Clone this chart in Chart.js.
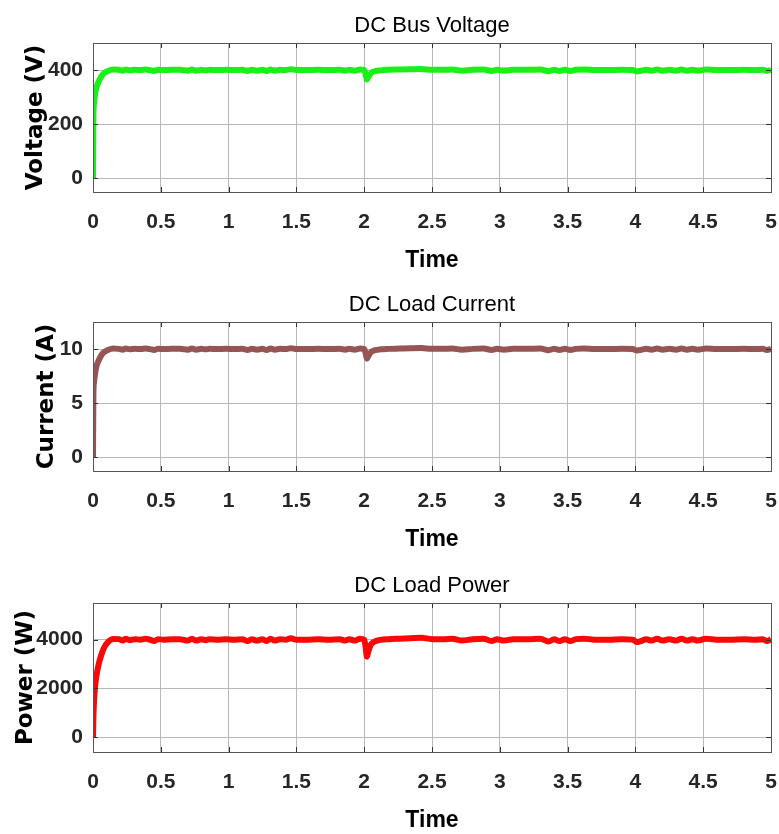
<!DOCTYPE html>
<html>
<head>
<meta charset="utf-8">
<script src="https://cdn.jsdelivr.net/npm/chart.js@4.4.1/dist/chart.umd.min.js"></script>
<style>
  html, body { margin: 0; padding: 0; background: #fff; }
  .box { position: absolute; left: 0; width: 779px; height: 274px; }
</style>
</head>
<body>
<div class="box" style="top:0"><canvas id="c1"></canvas></div>
<div class="box" style="top:279px"><canvas id="c2"></canvas></div>
<div class="box" style="top:560px"><canvas id="c3"></canvas></div>
<script>
// time axis (s)
const time = [
  0, 0.003, 0.008, 0.015, 0.025, 0.04, 0.06, 0.08, 0.11, 0.15,
  0.19, 0.22, 0.24, 0.27, 0.31, 0.35, 0.39, 0.42, 0.45, 0.48,
  0.52, 0.58, 0.64, 0.70, 0.73, 0.76, 0.80, 0.83, 0.86, 0.92,
  0.98, 1.04, 1.10, 1.14, 1.17, 1.21, 1.25, 1.28, 1.31, 1.34,
  1.38, 1.42, 1.46, 1.50, 1.58, 1.66, 1.74, 1.82, 1.86, 1.89,
  1.93, 1.97, 2.00, 2.01, 2.02, 2.03, 2.05, 2.08, 2.12, 2.18,
  2.26, 2.34, 2.42, 2.50, 2.58, 2.65, 2.72, 2.80, 2.88, 2.94,
  2.98, 3.03, 3.10, 3.20, 3.30, 3.36, 3.40, 3.44, 3.48, 3.52,
  3.56, 3.62, 3.70, 3.80, 3.90, 3.98, 4.01, 4.04, 4.08, 4.12,
  4.16, 4.20, 4.25, 4.30, 4.34, 4.38, 4.42, 4.46, 4.52, 4.60,
  4.70, 4.80, 4.88, 4.94, 4.97, 5.00
];

const busVoltage = [
  0, 230, 280, 310, 335, 355, 375, 388, 397, 402,
  401, 398, 402, 399, 401, 400, 402, 400, 397, 401,
  400, 401, 401, 398, 402, 398, 401, 399, 401, 400,
  401, 400, 401, 397, 401, 398, 401, 397, 402, 398,
  401, 400, 403, 400, 400, 401, 400, 401, 398, 401,
  398, 402, 400, 386, 365, 374, 389, 396, 399, 401,
  402, 403, 404, 401, 401, 402, 398, 401, 402, 397,
  401, 398, 401, 401, 402, 396, 401, 397, 401, 397,
  401, 402, 400, 400, 401, 400, 395, 397, 401, 398,
  402, 398, 401, 398, 402, 398, 401, 398, 402, 400,
  400, 401, 400, 401, 397, 401
];

const loadCurrent = [
  0, 5.8, 7.0, 7.7, 8.4, 8.9, 9.4, 9.7, 9.92, 10.05,
  10.02, 9.95, 10.05, 9.98, 10.02, 10.0, 10.05, 10.0, 9.92, 10.02,
  10.0, 10.02, 10.02, 9.95, 10.05, 9.95, 10.02, 9.98, 10.02, 10.0,
  10.02, 10.0, 10.02, 9.92, 10.02, 9.95, 10.02, 9.92, 10.05, 9.95,
  10.02, 10.0, 10.08, 10.0, 10.0, 10.02, 10.0, 10.02, 9.95, 10.02,
  9.95, 10.05, 10.0, 9.65, 9.12, 9.35, 9.72, 9.9, 9.98, 10.02,
  10.05, 10.08, 10.1, 10.02, 10.02, 10.05, 9.95, 10.02, 10.05, 9.92,
  10.02, 9.95, 10.02, 10.02, 10.05, 9.9, 10.02, 9.92, 10.02, 9.92,
  10.02, 10.05, 10.0, 10.0, 10.02, 10.0, 9.88, 9.92, 10.02, 9.95,
  10.05, 9.95, 10.02, 9.95, 10.05, 9.95, 10.02, 9.95, 10.05, 10.0,
  10.0, 10.02, 10.0, 10.02, 9.92, 10.02
];

const loadPower = [
  0, 800, 1500, 2050, 2500, 2950, 3350, 3650, 3900, 4030,
  4020, 3960, 4040, 3980, 4020, 4000, 4040, 4000, 3940, 4020,
  4000, 4020, 4020, 3960, 4040, 3960, 4020, 3980, 4020, 4000,
  4020, 4000, 4020, 3940, 4020, 3960, 4020, 3940, 4040, 3960,
  4020, 4000, 4060, 4000, 4000, 4020, 4000, 4020, 3960, 4020,
  3960, 4040, 4000, 3720, 3300, 3500, 3800, 3930, 3990, 4020,
  4040, 4060, 4080, 4020, 4020, 4040, 3960, 4020, 4040, 3940,
  4020, 3960, 4020, 4020, 4040, 3920, 4020, 3940, 4020, 3940,
  4020, 4040, 4000, 4000, 4020, 4000, 3900, 3940, 4020, 3960,
  4040, 3960, 4020, 3960, 4040, 3960, 4020, 3960, 4040, 4000,
  4000, 4020, 4000, 4020, 3940, 4020
];

const xTicks = [0, 0.5, 1, 1.5, 2, 2.5, 3, 3.5, 4, 4.5, 5];
const xTickLabels = ['0', '0.5', '1', '1.5', '2', '2.5', '3', '3.5', '4', '4.5', '5'];
const voltTicks = [0, 200, 400];
const currTicks = [0, 5, 10];
const powTicks = [0, 2000, 4000];

const SANS = "'Liberation Sans Narrow', 'Liberation Sans', Arial, sans-serif";
const WIDE = "'DejaVu Sans', Verdana, sans-serif";

// box round the plot with MATLAB style inner ticks
const framePlugin = {
  id: 'frame',
  afterDraw(chart) {
    const { ctx, chartArea: a, scales: { x, y } } = chart;
    ctx.save();
    ctx.strokeStyle = '#333';
    ctx.lineWidth = 1;
    ctx.beginPath();
    x.ticks.forEach(t => {
      const px = Math.round(x.getPixelForValue(t.value)) + 0.5;
      ctx.moveTo(px, a.bottom); ctx.lineTo(px, a.bottom - 5);
      ctx.moveTo(px, a.top); ctx.lineTo(px, a.top + 5);
    });
    y.ticks.forEach(t => {
      const py = Math.round(y.getPixelForValue(t.value)) + 0.5;
      ctx.moveTo(a.left, py); ctx.lineTo(a.left + 5, py);
      ctx.moveTo(a.right, py); ctx.lineTo(a.right - 5, py);
    });
    ctx.stroke();
    ctx.strokeStyle = '#555';
    ctx.strokeRect(Math.round(a.left) + 0.5, Math.round(a.top) + 0.5,
                   Math.round(a.width), Math.round(a.height));
    ctx.restore();
  }
};

function makeChart(id, cfg) {
  const pts = time.map((t, i) => ({ x: t, y: cfg.values[i] }));
  return new Chart(document.getElementById(id), {
    type: 'line',
    data: {
      datasets: [{
        data: pts,
        borderColor: cfg.color,
        borderWidth: 6,
        pointRadius: 0,
        cubicInterpolationMode: 'monotone',
        fill: false
      }]
    },
    options: {
      responsive: true,
      maintainAspectRatio: false,
      animation: false,
      layout: { padding: { left: 0, right: 8, top: 0, bottom: 0 } },
      plugins: {
        legend: { display: false },
        tooltip: { enabled: false },
        title: {
          display: true,
          text: cfg.title,
          fullSize: false,
          color: '#000',
          font: { family: SANS, size: 22, weight: 'normal' },
          padding: { top: 13, bottom: 3.6 }
        }
      },
      scales: {
        x: {
          type: 'linear',
          min: 0, max: 5,
          afterBuildTicks: s => { s.ticks = xTicks.map(v => ({ value: v })); },
          afterFit: s => { s.height = 82; },
          // tick length used only as a gap under the plot
          grid: { color: '#b8b8b8', drawTicks: true, tickLength: 18, tickColor: 'rgba(0,0,0,0)' },
          border: { display: false },
          ticks: {
            padding: 0, color: '#262626', maxRotation: 0, autoSkip: false,
            font: { family: SANS, size: 21, weight: 'bold' },
            callback: (v, i) => xTickLabels[i]
          },
          title: {
            display: true, text: 'Time', color: '#000',
            font: { family: SANS, size: 23, weight: 'bold' },
            padding: { top: 0, bottom: 0 }
          }
        },
        y: {
          min: cfg.yMin, max: cfg.yMax,
          afterBuildTicks: s => { s.ticks = cfg.yTicks.map(v => ({ value: v })); },
          afterFit: s => { s.width = 93; },
          grid: { color: '#b8b8b8', drawTicks: true, tickLength: 10, tickColor: 'rgba(0,0,0,0)' },
          border: { display: false },
          ticks: {
            padding: 0, color: '#262626',
            font: { family: SANS, size: 21, weight: 'bold' },
            callback: v => String(v)
          },
          title: {
            display: true, text: cfg.yTitle, color: '#000',
            font: { family: WIDE, size: 23, weight: 'bold' },
            padding: { top: cfg.yTitlePad, bottom: 0 }
          }
        }
      }
    },
    plugins: [framePlugin]
  });
}

makeChart('c1', {
  title: 'DC Bus Voltage', yTitle: 'Voltage (V)', values: busVoltage,
  color: 'rgb(24,240,24)', yMin: -50, yMax: 500, yTicks: voltTicks, yTitlePad: 22
});
makeChart('c2', {
  title: 'DC Load Current', yTitle: 'Current (A)', values: loadCurrent,
  color: 'rgb(150,84,84)', yMin: -1.25, yMax: 12.5, yTicks: currTicks, yTitlePad: 33
});
makeChart('c3', {
  title: 'DC Load Power', yTitle: 'Power (W)', values: loadPower,
  color: 'rgb(250,8,8)', yMin: -600, yMax: 5500, yTicks: powTicks, yTitlePad: 12
});
</script>
</body>
</html>
